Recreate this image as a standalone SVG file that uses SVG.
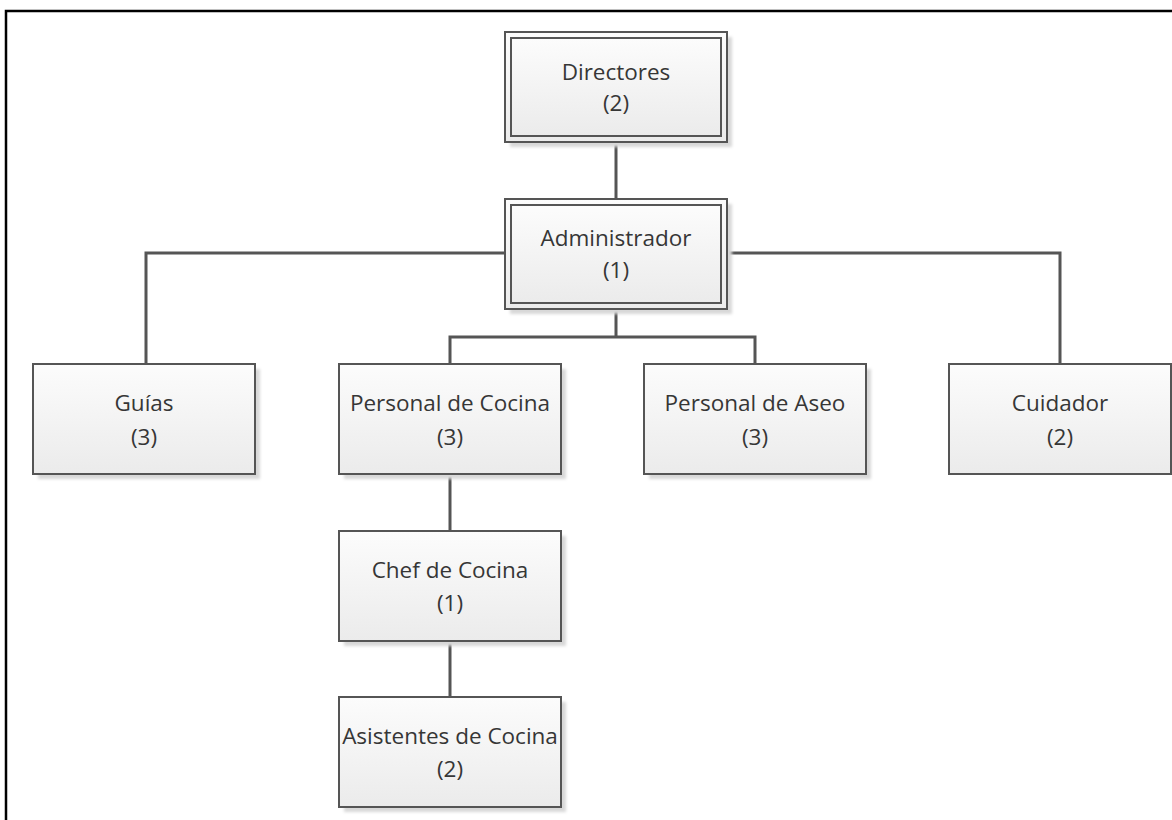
<svg xmlns="http://www.w3.org/2000/svg" width="1172" height="820" viewBox="0 0 1172 820">
<style>
.box{fill:url(#g);stroke:#555;stroke-width:2}
.shadow{fill:#d8d8d8;filter:url(#blur)}
.conn{fill:none;stroke:#555;stroke-width:3}
.t{font-family:"Open Sans","Liberation Sans",sans-serif;font-size:22.5px;fill:#363636;text-anchor:middle}
.frame{fill:none;stroke:#000;stroke-width:2.5}
</style>
<defs>
<linearGradient id="g" x1="0" y1="0" x2="0" y2="1">
<stop offset="0" stop-color="#fcfcfc"/>
<stop offset="1" stop-color="#ebebeb"/>
</linearGradient>
<filter id="blur" x="-10%" y="-10%" width="120%" height="120%"><feGaussianBlur stdDeviation="1.5"/></filter>
</defs>
<rect width="1172" height="820" fill="#fff"/>
<path class="frame" d="M6,820 V11 H1172"/>
<g id="connectors">
<path class="conn" d="M616,142 V198"/>
<path class="conn" d="M505,253 H146 V364"/>
<path class="conn" d="M727,253 H1060 V364"/>
<path class="conn" d="M616,309 V337 M450,364 V337 H755 V364"/>
<path class="conn" d="M450,475 V531"/>
<path class="conn" d="M450,642 V697"/>
</g>
<g id="directores">
<rect class="shadow" x="510" y="37" width="222" height="110"/>
<rect class="box" x="505" y="32" width="222" height="110"/>
<rect class="box" x="511" y="38" width="210" height="98"/>
<text class="t" x="616" y="80">Directores</text>
<text class="t" x="616" y="111">(2)</text>
</g>
<g id="administrador">
<rect class="shadow" x="510" y="204" width="222" height="110"/>
<rect class="box" x="505" y="199" width="222" height="110"/>
<rect class="box" x="511" y="205" width="210" height="98"/>
<text class="t" x="616" y="246">Administrador</text>
<text class="t" x="616" y="278">(1)</text>
</g>
<g id="guias">
<rect class="shadow" x="38" y="369" width="222" height="110"/>
<rect class="box" x="33" y="364" width="222" height="110"/>
<text class="t" x="144" y="411">Guías</text>
<text class="t" x="144" y="445">(3)</text>
</g>
<g id="personal-cocina">
<rect class="shadow" x="344" y="369" width="222" height="110"/>
<rect class="box" x="339" y="364" width="222" height="110"/>
<text class="t" x="450" y="411">Personal de Cocina</text>
<text class="t" x="450" y="445">(3)</text>
</g>
<g id="personal-aseo">
<rect class="shadow" x="649" y="369" width="222" height="110"/>
<rect class="box" x="644" y="364" width="222" height="110"/>
<text class="t" x="755" y="411">Personal de Aseo</text>
<text class="t" x="755" y="445">(3)</text>
</g>
<g id="cuidador">
<rect class="box" x="949" y="364" width="222" height="110"/>
<text class="t" x="1060" y="411">Cuidador</text>
<text class="t" x="1060" y="445">(2)</text>
</g>
<g id="chef">
<rect class="shadow" x="344" y="536" width="222" height="110"/>
<rect class="box" x="339" y="531" width="222" height="110"/>
<text class="t" x="450" y="578">Chef de Cocina</text>
<text class="t" x="450" y="611">(1)</text>
</g>
<g id="asistentes">
<rect class="shadow" x="344" y="702" width="222" height="110"/>
<rect class="box" x="339" y="697" width="222" height="110"/>
<text class="t" x="450" y="744">Asistentes de Cocina</text>
<text class="t" x="450" y="777">(2)</text>
</g>
</svg>
